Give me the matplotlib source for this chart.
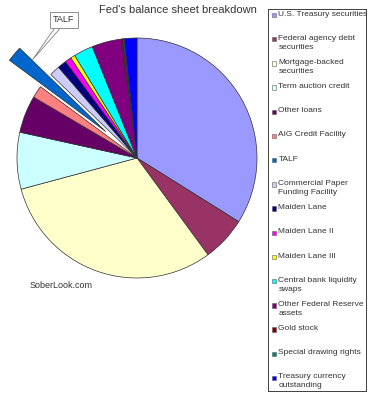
import matplotlib.pyplot as plt
from matplotlib.patches import Rectangle

plt.rcParams['font.family'] = ['Liberation Sans', 'DejaVu Sans']

# dados (% do balanco)
labels = ["U.S. Treasury securities", "Federal agency debt\nsecurities",
          "Mortgage-backed\nsecurities", "Term auction credit", "Other loans",
          "AIG Credit Facility", "TALF", "Commercial Paper\nFunding Facility",
          "Maiden Lane", "Maiden Lane II", "Maiden Lane III",
          "Central bank liquidity\nswaps", "Other Federal Reserve\nassets",
          "Gold stock", "Special drawing rights", "Treasury currency\noutstanding"]
values = [33.75, 6.0, 30.75, 7.6, 5.0, 1.65, 2.1, 1.4, 1.2, 0.85, 0.6,
          2.6, 4.0, 0.2, 0.15, 1.7]
colors = ["#9999FF", "#993366", "#FFFFCC", "#CCFFFF", "#660066", "#FF8080",
          "#0066CC", "#CCCCFF", "#000080", "#FF00FF", "#FFFF00", "#00FFFF",
          "#800080", "#800000", "#008080", "#0000FF"]
explode = [0.34 if l == "TALF" else 0 for l in labels]

W, H = 372, 400
fig = plt.figure(figsize=(W / 100, H / 100), dpi=100)


def box(x0, y0, x1, y1):
    # pixels (topo-esquerda) -> fracao da figura
    return [x0 / W, 1 - y1 / H, (x1 - x0) / W, (y1 - y0) / H]


# pizza
ax = fig.add_axes(box(5, 20, 269, 296))
ax.pie(values, colors=colors, explode=explode, startangle=90, counterclock=False,
       wedgeprops=dict(edgecolor="#303030", linewidth=0.5))
ax.set_xlim(-1.1, 1.1)
ax.set_ylim(-1.15, 1.15)
ax.set_aspect("equal")
ax.axis("off")

# balao TALF
ax.annotate("TALF", xy=(-0.87, 0.82), xytext=(-0.61, 1.15), fontsize=6.5,
            color="#333333", ha="center", va="center", annotation_clip=False,
            bbox=dict(boxstyle="square,pad=0.35", fc="white", ec="#808080", lw=0.6),
            arrowprops=dict(arrowstyle="wedge,tail_width=0.5", fc="white",
                            ec="#808080", lw=0.6, shrinkA=0, shrinkB=0))

fig.text(178 / W, 1 - 10 / H, "Fed's balance sheet breakdown", fontsize=8,
         color="#333333", ha="center", va="center")
fig.text(30 / W, 1 - 285 / H, "SoberLook.com", fontsize=6.5, color="#333333",
         ha="left", va="center")

# legenda
lg = fig.add_axes(box(268, 9, 366, 391))
lg.set_xlim(268, 366)
lg.set_ylim(391, 9)
lg.set_xticks([])
lg.set_yticks([])
for s in lg.spines.values():
    s.set_linewidth(0.7)
    s.set_color("#404040")
for i, (lab, c) in enumerate(zip(labels, colors)):
    y = 15 + i * 24.2
    lg.add_patch(Rectangle((272, y - 2.2), 4.4, 4.4, fc=c, ec="#606060", lw=0.4))
    lg.text(278.5, y - 4.5, lab, fontsize=6, color="#333333", ha="left",
            va="top", linespacing=1.4)

plt.savefig("out.png", dpi=100)
